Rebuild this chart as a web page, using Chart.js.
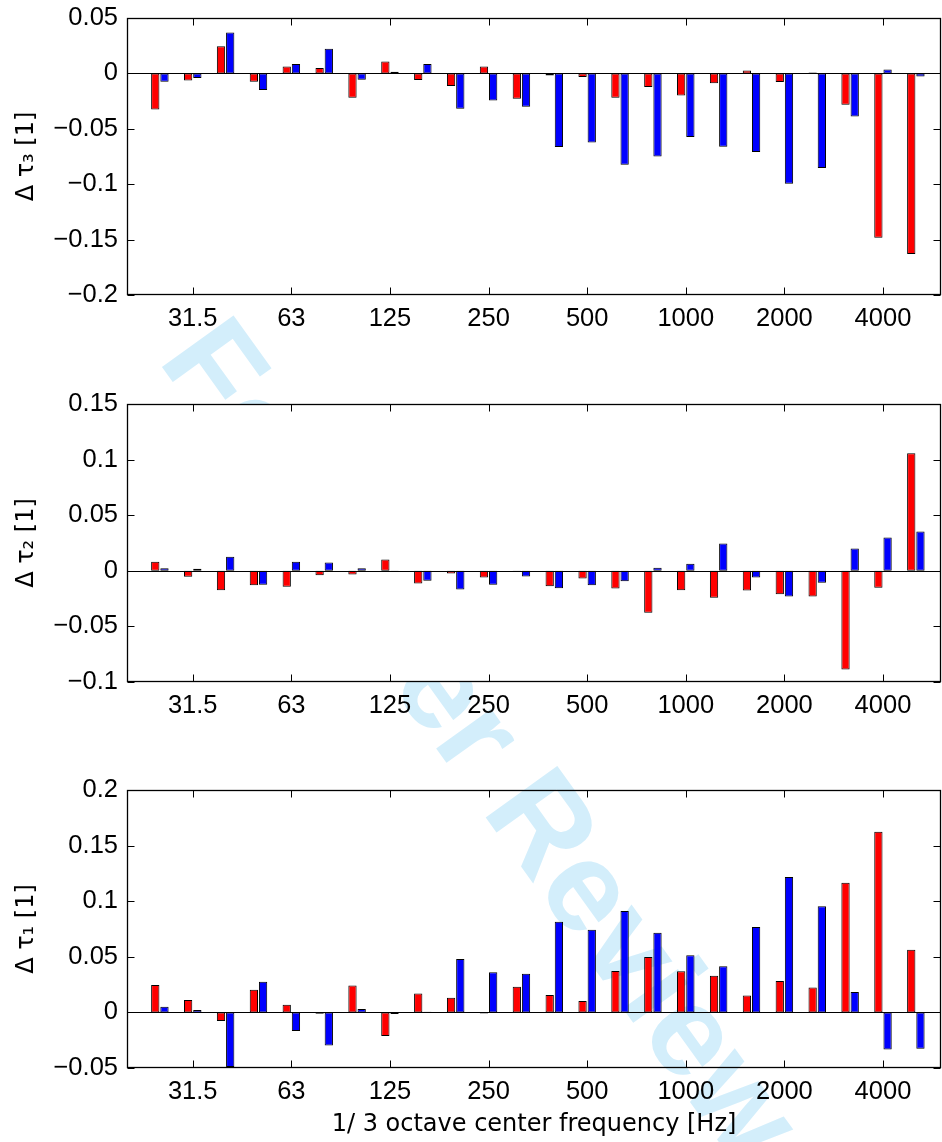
<!DOCTYPE html>
<html>
<head>
<meta charset="utf-8">
<script src="https://cdn.jsdelivr.net/npm/chart.js@4.4.1/dist/chart.umd.min.js"></script>
<style>
  html, body { margin:0; padding:0; background:#fff; }
  #page { position:relative; width:942px; height:1142px; overflow:hidden; background:#fff; }
  #wm { position:absolute; left:0; top:0; width:942px; height:1142px; z-index:0; }
  canvas { position:absolute; left:0; z-index:1; }
</style>
</head>
<body>
<div id="page">
  <svg id="wm" width="942" height="1142" xmlns="http://www.w3.org/2000/svg">
    <text x="157" y="360" transform="rotate(54.3 157 360)" font-family="Liberation Sans, Arial, sans-serif" font-weight="bold" font-size="128" fill="#d3eefb">For Peer Review</text>
  </svg>
  <canvas id="c1" width="942" height="370" style="top:0px"></canvas>
  <canvas id="c2" width="942" height="370" style="top:386px"></canvas>
  <canvas id="c3" width="942" height="370" style="top:772px"></canvas>
</div>
<script>
// ---- data ----
const bands = ['25','31.5','40','50','63','80','100','125','160','200','250','315','400','500','630','800','1000','1250','1600','2000','2500','3150','4000','5000'];
const xTickLabels = ['31.5','63','125','250','500','1000','2000','4000'];

const tau3Red  = [-0.0325,-0.0063,0.0244,-0.0075,0.0063,0.0048,-0.022,0.0108,-0.006,-0.0114,0.0063,-0.0229,-0.002,-0.0033,-0.022,-0.0123,-0.0199,-0.009,0.0027,-0.0078,0.0008,-0.0283,-0.1483,-0.163];
const tau3Blue = [-0.0075,-0.0042,0.037,-0.015,0.0084,0.0223,-0.0057,0.0015,0.0084,-0.0319,-0.0244,-0.0301,-0.0665,-0.0623,-0.0824,-0.0749,-0.0575,-0.0662,-0.071,-0.0996,-0.0854,-0.0388,0.0036,-0.0027];

const tau2Red  = [0.0081,-0.0054,-0.0174,-0.0129,-0.0144,-0.0039,-0.0033,0.0102,-0.0114,-0.0024,-0.006,-0.0006,-0.0138,-0.0069,-0.0159,-0.0378,-0.0174,-0.0243,-0.0177,-0.021,-0.0231,-0.0887,-0.0153,0.1058];
const tau2Blue = [0.0024,0.0018,0.0126,-0.0126,0.0081,0.0075,0.0024,-0.0003,-0.009,-0.0168,-0.0126,-0.0051,-0.0156,-0.0129,-0.0093,0.0027,0.0063,0.0246,-0.006,-0.0231,-0.0108,0.0201,0.030,0.0354];

const tau1Red  = [0.0246,0.0111,-0.0078,0.0204,0.0069,-0.0012,0.0243,-0.0213,0.0171,0.0132,-0.0009,0.0231,0.0156,0.0102,0.0372,0.0498,0.0369,0.033,0.0153,0.0282,0.0225,0.1167,0.1624,0.0564];
const tau1Blue = [0.0051,0.0021,-0.0492,0.0276,-0.0168,-0.0297,0.003,-0.0015,0.0006,0.048,0.036,0.0348,0.0816,0.0744,0.0912,0.0717,0.0513,0.0414,0.0768,0.1218,0.0954,0.0183,-0.0333,-0.0327];

const tau3Ticks = [0.05, 0, -0.05, -0.1, -0.15, -0.2];
const tau2Ticks = [0.15, 0.1, 0.05, 0, -0.05, -0.1];
const tau1Ticks = [0.2, 0.15, 0.1, 0.05, 0, -0.05];

const xTitle = '1/ 3 octave center frequency [Hz]';

// ---- chart construction ----
const TICK_FONT = { family: "'Liberation Sans', Arial, Helvetica, sans-serif", size: 25.5 };
const TITLE_FONT = { family: "'DejaVu Sans', sans-serif", size: 24 };

function fmt(v) {
  const a = Math.abs(v);
  return (v < 0 ? '\u2212' : '') + String(a);
}

const framePlugin = {
  id: 'frame',
  beforeDatasetsDraw(chart, args, opts) {
    if (!opts.fillWhite) return;
    const a = chart.chartArea, ctx = chart.ctx;
    ctx.save();
    ctx.fillStyle = '#ffffff';
    ctx.fillRect(a.left, a.top, a.right - a.left, a.bottom - a.top);
    ctx.restore();
  },
  afterDatasetsDraw(chart) {
    const a = chart.chartArea, ctx = chart.ctx;
    const xs = chart.scales.x, ys = chart.scales.y;
    const L = Math.round(a.left) + 0.5, R = Math.round(a.right) - 0.5;
    const T = Math.round(a.top) + 0.5, B = Math.round(a.bottom) - 0.5;
    ctx.save();
    ctx.strokeStyle = '#000';
    ctx.lineWidth = 1;
    // zero baseline
    const z = Math.round(ys.getPixelForValue(0)) + 0.5;
    ctx.beginPath(); ctx.moveTo(L, z); ctx.lineTo(R, z); ctx.stroke();
    // inward tick marks
    const tl = 7;
    ctx.beginPath();
    xs.ticks.forEach(t => {
      const p = Math.round(xs.getPixelForValue(t.value)) + 0.5;
      ctx.moveTo(p, T); ctx.lineTo(p, T + tl);
      ctx.moveTo(p, B); ctx.lineTo(p, B - tl);
    });
    ys.ticks.forEach(t => {
      const p = Math.round(ys.getPixelForValue(t.value)) + 0.5;
      ctx.moveTo(L, p); ctx.lineTo(L + tl, p);
      ctx.moveTo(R, p); ctx.lineTo(R - tl, p);
    });
    ctx.stroke();
    // box
    ctx.lineWidth = 1.3;
    ctx.strokeRect(L, T, R - L, B - T);
    ctx.restore();
  }
};

function makeChart(id, red, blue, yTicks, yTitle, xHeight, fillWhite, showXTitle) {
  const toPts = arr => arr.map((v, i) => ({ x: i, y: v }));
  const common = {
    borderColor: '#000', borderWidth: 1, borderSkipped: false,
    categoryPercentage: 0.56, barPercentage: 0.9
  };
  return new Chart(document.getElementById(id), {
    type: 'bar',
    data: {
      datasets: [
        Object.assign({ label: 'red', data: toPts(red), backgroundColor: '#ff0000' }, common),
        Object.assign({ label: 'blue', data: toPts(blue), backgroundColor: '#0000ff' }, common)
      ]
    },
    options: {
      responsive: false,
      animation: false,
      layout: { padding: { top: 18, right: 1, left: 0, bottom: 0 } },
      plugins: {
        legend: { display: false },
        tooltip: { enabled: false },
        frame: { fillWhite: fillWhite }
      },
      scales: {
        x: {
          type: 'linear',
          offset: false,
          min: -1, max: 23.765,
          grid: { display: false, drawTicks: false, offset: false },
          border: { display: false },
          afterBuildTicks: s => { s.ticks = xTickLabels.map(l => ({ value: bands.indexOf(l) })); },
          afterFit: s => { s.height = xHeight; s.paddingLeft = 0; s.paddingRight = 0; },
          ticks: {
            autoSkip: false, maxRotation: 0, padding: 8.5,
            color: '#000', font: TICK_FONT,
            callback: v => bands[v]
          },
          title: {
            display: showXTitle, text: xTitle, color: '#000', font: TITLE_FONT,
            padding: { top: 0, bottom: 3 }
          }
        },
        y: {
          min: Math.min(...yTicks), max: Math.max(...yTicks),
          grid: { display: false, drawTicks: false },
          border: { display: false },
          afterBuildTicks: s => { s.ticks = yTicks.slice().sort((a, b) => a - b).map(v => ({ value: v })); },
          afterFit: s => { s.width = 127; s.paddingTop = 0; s.paddingBottom = 0; },
          ticks: {
            padding: 9, color: '#000', font: TICK_FONT,
            callback: v => fmt(v)
          },
          title: {
            display: true, text: yTitle, color: '#000', font: TITLE_FONT,
            padding: { top: 12, bottom: 0 }
          }
        }
      }
    },
    plugins: [framePlugin]
  });
}

makeChart('c1', tau3Red, tau3Blue, tau3Ticks, 'Δ τ₃ [1]', 75, false, false);
makeChart('c2', tau2Red, tau2Blue, tau2Ticks, 'Δ τ₂ [1]', 74, true, false);
makeChart('c3', tau1Red, tau1Blue, tau1Ticks, 'Δ τ₁ [1]', 74, false, true);
</script>
</body>
</html>
